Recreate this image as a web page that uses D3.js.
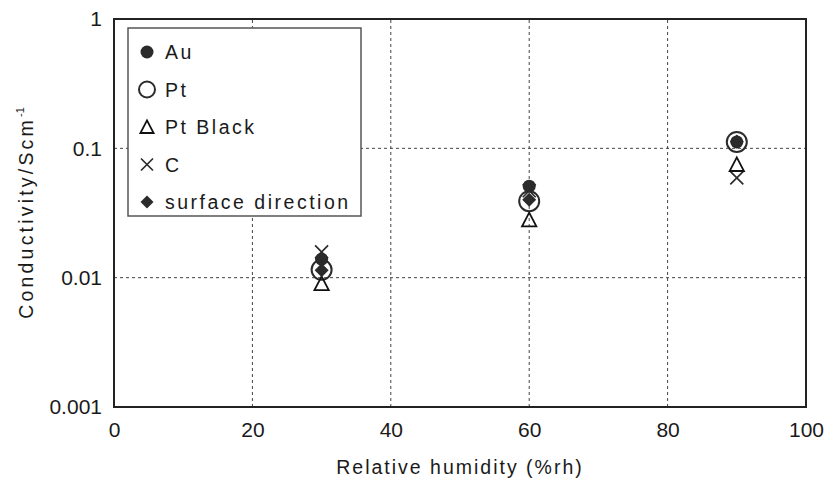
<!DOCTYPE html>
<html>
<head>
<meta charset="utf-8">
<script src="https://cdn.jsdelivr.net/npm/d3@7"></script>
<style>
  body { margin: 0; background: #fff; }
  svg { display: block; }
  text { font-family: "Liberation Sans", Arial, sans-serif; fill: #1a1a1a; }
</style>
</head>
<body>
<svg id="chart" width="827" height="481"></svg>
<script>
// data
const humidity = [30, 60, 90];
const au       = [0.0139, 0.051, 0.112];
const pt       = [0.0115, 0.039, 0.112];
const ptBlack  = [0.0090, 0.028, 0.075];
const carbon   = [0.0158, 0.047, 0.059];
const surface  = [0.0114, 0.040, 0.113];

const xTicks = [0, 20, 40, 60, 80, 100];
const yTicks = [0.001, 0.01, 0.1, 1];
const yTickLabels = ["0.001", "0.01", "0.1", "1"];
const legendLabels = ["Au", "Pt", "Pt Black", "C", "surface direction"];

const ink = "#2b2b2b";

const svg = d3.select("#chart");
const x = d3.scaleLinear().domain([0, 100]).range([114, 806]);
const y = d3.scaleLog().domain([0.001, 1]).range([407, 19]);

// grid
const grid = svg.append("g")
    .attr("stroke", "#444")
    .attr("stroke-width", 1)
    .attr("stroke-dasharray", "3,3");

grid.selectAll(".vgrid")
    .data(xTicks.slice(1, -1))
    .enter().append("line")
    .attr("x1", d => x(d)).attr("x2", d => x(d))
    .attr("y1", y.range()[0]).attr("y2", y.range()[1]);

grid.selectAll(".hgrid")
    .data(yTicks.slice(1, -1))
    .enter().append("line")
    .attr("x1", x.range()[0]).attr("x2", x.range()[1])
    .attr("y1", d => y(d)).attr("y2", d => y(d));

// axes (labels only, the frame is drawn separately)
const xAxis = svg.append("g")
    .attr("transform", `translate(0,${y.range()[0]})`)
    .call(d3.axisBottom(x).tickValues(xTicks).tickSize(0).tickPadding(15));
xAxis.select(".domain").remove();

const yAxis = svg.append("g")
    .attr("transform", `translate(${x.range()[0]},0)`)
    .call(d3.axisLeft(y).tickValues(yTicks).tickSize(0).tickPadding(12)
        .tickFormat((d, i) => yTickLabels[i]));
yAxis.select(".domain").remove();

svg.selectAll(".tick text")
    .attr("font-family", null)
    .attr("fill", "#1a1a1a")
    .style("font-size", "21px");

// frame
svg.append("rect")
    .attr("x", x.range()[0]).attr("y", y.range()[1])
    .attr("width", x.range()[1] - x.range()[0])
    .attr("height", y.range()[0] - y.range()[1])
    .attr("fill", "none")
    .attr("stroke", "#222")
    .attr("stroke-width", 2);

// axis titles
svg.append("text")
    .attr("x", (x.range()[0] + x.range()[1]) / 2)
    .attr("y", 474)
    .attr("text-anchor", "middle")
    .style("font-size", "19.5px")
    .style("letter-spacing", "2px")
    .text("Relative humidity (%rh)");

const yTitle = svg.append("text")
    .attr("transform", `translate(33,${(y.range()[0] + y.range()[1]) / 2}) rotate(-90)`)
    .attr("text-anchor", "middle")
    .style("font-size", "19.5px")
    .style("letter-spacing", "3.2px");
yTitle.append("tspan").text("Conductivity/Scm");
yTitle.append("tspan").attr("dy", -9).style("font-size", "11px").style("letter-spacing", "0px").text("-1");

// marker drawers
function dot(g, r) {
    return g.append("circle").attr("r", r).attr("fill", ink);
}
function ring(g, r) {
    return g.append("circle").attr("r", r).attr("fill", "none")
        .attr("stroke", ink).attr("stroke-width", 2);
}
function tri(g, s) {
    return g.append("path")
        .attr("d", `M0,${-s * 0.55}L${s * 0.55},${s * 0.5}L${-s * 0.55},${s * 0.5}Z`)
        .attr("fill", "none").attr("stroke", "#111").attr("stroke-width", 1.8);
}
function cross(g, s) {
    return g.append("path")
        .attr("d", `M${-s},${-s}L${s},${s}M${s},${-s}L${-s},${s}`)
        .attr("stroke", ink).attr("stroke-width", 1.7);
}
function diamond(g, s) {
    return g.append("path")
        .attr("d", `M0,${-s}L${s},0L0,${s}L${-s},0Z`)
        .attr("fill", ink);
}

const series = [
    { values: au,      draw: g => dot(g, 6.5),    legend: g => dot(g, 6.5) },
    { values: carbon,  draw: g => cross(g, 6.5),  legend: g => cross(g, 6) },
    { values: pt,      draw: g => ring(g, 10),    legend: g => ring(g, 8) },
    { values: ptBlack, draw: g => tri(g, 13),     legend: g => tri(g, 12) },
    { values: surface, draw: g => diamond(g, 7),  legend: g => diamond(g, 6.5) }
];
// legend order differs from drawing order
const legendOrder = [0, 2, 3, 1, 4];

series.forEach(s => {
    svg.append("g").selectAll("g")
        .data(humidity.map((h, i) => [h, s.values[i]]))
        .enter().append("g")
        .attr("transform", d => `translate(${x(d[0])},${y(d[1])})`)
        .each(function () { s.draw(d3.select(this)); });
});

// legend
const legend = svg.append("g");
legend.append("rect")
    .attr("x", 128).attr("y", 28)
    .attr("width", 233).attr("height", 188)
    .attr("fill", "#fff")
    .attr("stroke", "#555")
    .attr("stroke-width", 1.5);

const rows = legend.selectAll(".row")
    .data(legendLabels)
    .enter().append("g")
    .attr("transform", (d, i) => `translate(147,${52 + i * 37.5})`);

rows.each(function (d, i) { series[legendOrder[i]].legend(d3.select(this)); });

rows.append("text")
    .attr("x", 18)
    .attr("dy", "0.36em")
    .style("font-size", "19.5px")
    .style("letter-spacing", "2.5px")
    .text(d => d);
</script>
</body>
</html>
